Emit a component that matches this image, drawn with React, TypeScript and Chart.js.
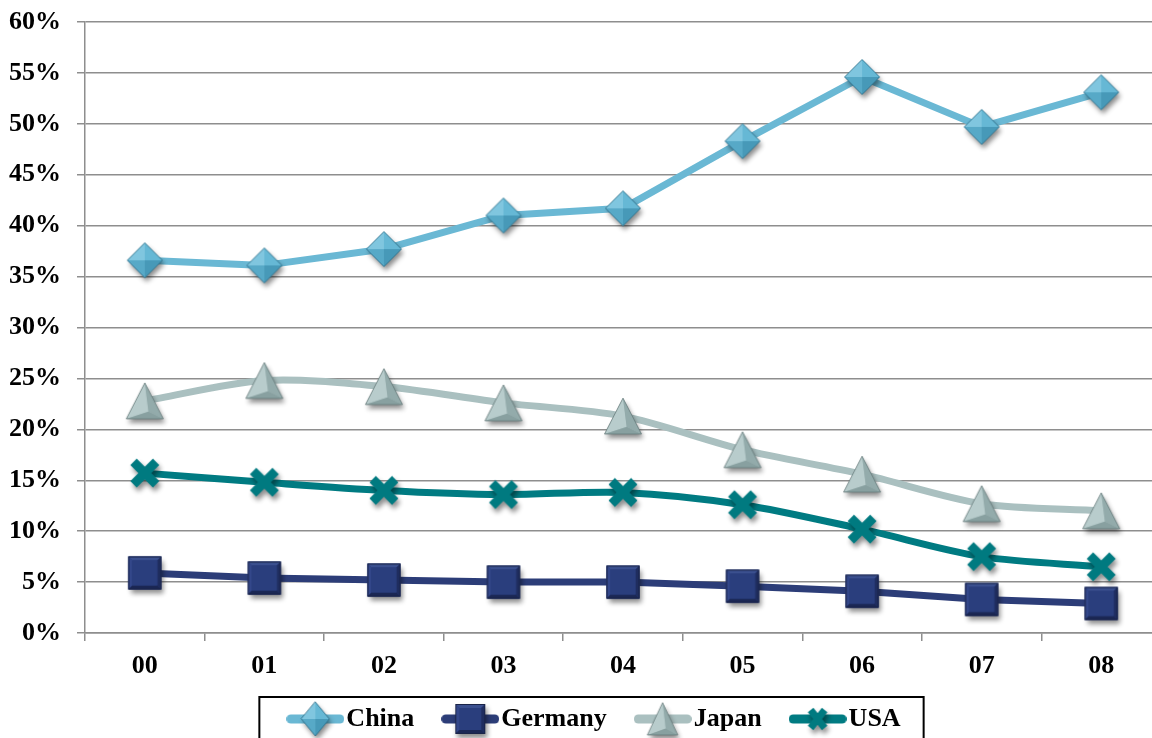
import React, { useEffect, useRef } from 'react';
import { Chart, registerables } from 'chart.js';

Chart.register(...registerables);

const categories = ['00', '01', '02', '03', '04', '05', '06', '07', '08'];
const seriesNames = ['China', 'Germany', 'Japan', 'USA'];
const chinaValues = [36.6, 36.1, 37.7, 41.0, 41.7, 48.3, 54.6, 49.7, 53.1];
const germanyValues = [5.9, 5.4, 5.2, 5.0, 5.0, 4.6, 4.1, 3.3, 2.9];
const japanValues = [22.8, 24.8, 24.2, 22.6, 21.3, 18.0, 15.6, 12.7, 12.0];
const usaValues = [15.7, 14.8, 14.0, 13.6, 13.8, 12.6, 10.2, 7.5, 6.5];
const yMin = 0;
const yMax = 60;
const yStep = 5;

const W = 1175;
const H = 760;
const FONT = { family: "'Liberation Serif', 'Times New Roman', serif", size: 26, weight: 'bold' as const };
const GRID = '#8e8e8e';

type Pt = [number, number];

function makeCanvas(w: number, h: number) {
  const c = document.createElement('canvas');
  c.width = w;
  c.height = h;
  return c;
}

function shadow(ctx: CanvasRenderingContext2D, on: boolean) {
  if (on) {
    ctx.shadowColor = 'rgba(0,0,0,0.45)';
    ctx.shadowBlur = 5;
    ctx.shadowOffsetX = 2;
    ctx.shadowOffsetY = 4;
  } else {
    ctx.shadowColor = 'rgba(0,0,0,0)';
    ctx.shadowBlur = 0;
    ctx.shadowOffsetX = 0;
    ctx.shadowOffsetY = 0;
  }
}

function poly(ctx: CanvasRenderingContext2D, pts: Pt[]) {
  ctx.beginPath();
  ctx.moveTo(pts[0][0], pts[0][1]);
  for (let i = 1; i < pts.length; i++) ctx.lineTo(pts[i][0], pts[i][1]);
  ctx.closePath();
}

function fillPoly(ctx: CanvasRenderingContext2D, pts: Pt[], color: string) {
  poly(ctx, pts);
  ctx.fillStyle = color;
  ctx.fill();
}

function drawDiamond(ctx: CanvasRenderingContext2D, cx: number, cy: number, w: number, h: number, sh: boolean) {
  const T: Pt = [cx, cy - h / 2];
  const R: Pt = [cx + w / 2, cy];
  const B: Pt = [cx, cy + h / 2];
  const L: Pt = [cx - w / 2, cy];
  const C: Pt = [cx, cy];
  shadow(ctx, sh);
  fillPoly(ctx, [T, R, B, L], '#55abc9');
  shadow(ctx, false);
  fillPoly(ctx, [T, L, C], '#80c6df');
  fillPoly(ctx, [T, R, C], '#66b8d5');
  fillPoly(ctx, [R, B, C], '#4799b8');
  fillPoly(ctx, [B, L, C], '#57a9c7');
  poly(ctx, [T, R, B, L]);
  ctx.strokeStyle = 'rgba(40,100,125,0.7)';
  ctx.lineWidth = 1;
  ctx.stroke();
}

function drawSquare(ctx: CanvasRenderingContext2D, cx: number, cy: number, s: number, sh: boolean) {
  const x0 = cx - s / 2, y0 = cy - s / 2, x1 = cx + s / 2, y1 = cy + s / 2, b = 4;
  shadow(ctx, sh);
  fillPoly(ctx, [[x0, y0], [x1, y0], [x1, y1], [x0, y1]], '#283b78');
  shadow(ctx, false);
  fillPoly(ctx, [[x0, y0], [x1, y0], [x1 - b, y0 + b], [x0 + b, y0 + b]], '#3b508f');
  fillPoly(ctx, [[x0, y0], [x0 + b, y0 + b], [x0 + b, y1 - b], [x0, y1]], '#33478a');
  fillPoly(ctx, [[x1, y0], [x1, y1], [x1 - b, y1 - b], [x1 - b, y0 + b]], '#1f2d5f');
  fillPoly(ctx, [[x0, y1], [x1, y1], [x1 - b, y1 - b], [x0 + b, y1 - b]], '#1b2754');
  fillPoly(ctx, [[x0 + b, y0 + b], [x1 - b, y0 + b], [x1 - b, y1 - b], [x0 + b, y1 - b]], '#2a3e7d');
  ctx.strokeStyle = '#1a2448';
  ctx.lineWidth = 1;
  ctx.strokeRect(x0 + 0.5, y0 + 0.5, s - 1, s - 1);
}

function drawTriangle(ctx: CanvasRenderingContext2D, cx: number, cy: number, w: number, h: number, sh: boolean) {
  const A: Pt = [cx, cy - h / 2];
  const BL: Pt = [cx - w / 2, cy + h / 2];
  const BR: Pt = [cx + w / 2, cy + h / 2];
  const P: Pt = [cx + w * 0.1, cy + h * 0.3];
  shadow(ctx, sh);
  fillPoly(ctx, [A, BR, BL], '#a5bbbb');
  shadow(ctx, false);
  fillPoly(ctx, [A, BL, P], '#b8cccc');
  fillPoly(ctx, [A, BR, P], '#93abab');
  fillPoly(ctx, [BL, BR, P], '#88a0a0');
  poly(ctx, [A, BR, BL]);
  ctx.strokeStyle = 'rgba(95,115,115,0.7)';
  ctx.lineWidth = 1;
  ctx.stroke();
}

function drawX(ctx: CanvasRenderingContext2D, cx: number, cy: number, sx: number, sy: number, th: number, sh: boolean) {
  shadow(ctx, sh);
  ctx.beginPath();
  ctx.moveTo(cx - sx, cy - sy);
  ctx.lineTo(cx + sx, cy + sy);
  ctx.moveTo(cx + sx, cy - sy);
  ctx.lineTo(cx - sx, cy + sy);
  ctx.strokeStyle = '#007a80';
  ctx.lineWidth = th;
  ctx.lineCap = 'butt';
  ctx.stroke();
  shadow(ctx, false);
}

const lineColors = ['#6ab8d4', '#2c3d78', '#aac0c0', '#007b82'];

function markerCanvas(i: number, legend: boolean) {
  const cw = legend ? 58 : 56;
  const ch = legend ? 40 : 56;
  const c = makeCanvas(cw, ch);
  const ctx = c.getContext('2d')!;
  const cx = cw / 2;
  const cy = ch / 2;
  if (legend) {
    ctx.beginPath();
    ctx.moveTo(4.5, cy);
    ctx.lineTo(cw - 4.5, cy);
    ctx.strokeStyle = lineColors[i];
    ctx.lineWidth = 9;
    ctx.lineCap = 'round';
    ctx.stroke();
  }
  if (i === 0) legend ? drawDiamond(ctx, cx, cy, 28, 34, true) : drawDiamond(ctx, cx, cy, 35, 35, true);
  if (i === 1) legend ? drawSquare(ctx, cx, cy, 30, true) : drawSquare(ctx, cx, cy, 33, true);
  if (i === 2) legend ? drawTriangle(ctx, cx, cy, 30, 32, true) : drawTriangle(ctx, cx, cy, 37, 36, true);
  if (i === 3) legend ? drawX(ctx, cx, cy, 7, 9, 7, true) : drawX(ctx, cx, cy, 11.3, 11.3, 9, true);
  return c;
}

const legendBorder = {
  id: 'legendBorder',
  afterLayout(chart: any) {
    // let axis labels extend beyond their boxes without being clipped
    if (chart.scales && chart.scales.y) chart.scales.y.left = 0;
    if (chart.scales && chart.scales.x) chart.scales.x.bottom = chart.height;
  },
  afterDraw(chart: any) {
    const lg = chart.legend;
    if (!lg || !lg.legendHitBoxes || !lg.legendHitBoxes.length) return;
    const hb = lg.legendHitBoxes;
    const first = hb[0];
    const last = hb[hb.length - 1];
    const left = first.left - 38;
    const right = last.left + last.width + 23;
    const top = first.top - 9;
    const bottom = chart.height + 10;
    const ctx = chart.ctx;
    ctx.save();
    ctx.strokeStyle = '#000';
    ctx.lineWidth = 2;
    ctx.beginPath();
    ctx.moveTo(left, bottom);
    ctx.lineTo(left, top);
    ctx.lineTo(right, top);
    ctx.lineTo(right, bottom);
    ctx.stroke();
    ctx.restore();
  },
};

export default function App() {
  const ref = useRef<HTMLCanvasElement>(null);

  useEffect(() => {
    const canvas = ref.current;
    if (!canvas) return;
    const pointImgs = [0, 1, 2, 3].map((i) => markerCanvas(i, false));
    const legendImgs = [0, 1, 2, 3].map((i) => markerCanvas(i, true));
    const values = [chinaValues, germanyValues, japanValues, usaValues];
    const tensions = [0, 0, 0.3, 0.3];

    const chart = new Chart(canvas, {
      type: 'line',
      data: {
        labels: categories,
        datasets: seriesNames.map((name, i) => ({
          label: name,
          data: values[i],
          borderColor: lineColors[i],
          backgroundColor: lineColors[i],
          borderWidth: 7,
          tension: tensions[i],
          pointStyle: pointImgs[i] as any,
          pointRadius: 18,
          pointHoverRadius: 18,
          fill: false,
          borderCapStyle: 'round' as const,
          borderJoinStyle: 'round' as const,
        })),
      },
      options: {
        responsive: false,
        animation: false,
        devicePixelRatio: 1,
        layout: { autoPadding: false, padding: { left: 37, right: W - 1161, top: 22, bottom: 18 } },
        plugins: {
          tooltip: { enabled: false },
          legend: {
            display: true,
            position: 'bottom',
            labels: {
              usePointStyle: true,
              pointStyleWidth: 36,
              boxHeight: 26,
              padding: 38,
              color: '#000',
              font: FONT,
              generateLabels: () =>
                seriesNames.map((name, i) => ({
                  text: name,
                  fillStyle: lineColors[i],
                  strokeStyle: lineColors[i],
                  lineWidth: 0,
                  pointStyle: legendImgs[i] as any,
                  hidden: false,
                  datasetIndex: i,
                  rotation: 0,
                  fontColor: '#000',
                })),
            },
          },
        },
        scales: {
          x: {
            type: 'category',
            offset: true,
            afterFit: (scale: any) => {
              scale.height = 35;
              scale.paddingLeft = 0;
              scale.paddingRight = 0;
            },
            grid: {
              display: true,
              drawOnChartArea: false,
              drawTicks: true,
              tickLength: 8,
              offset: true,
              color: GRID,
              lineWidth: 1.5,
            },
            border: { display: true, color: GRID, width: 1.5 },
            ticks: { color: '#000', font: FONT, padding: 10, maxRotation: 0 },
          },
          y: {
            min: yMin,
            max: yMax,
            afterFit: (scale: any) => {
              scale.width = 48;
              scale.paddingTop = 0;
              scale.paddingBottom = 0;
            },
            grid: { color: GRID, lineWidth: 1.5, tickLength: 8, drawTicks: true },
            border: { display: true, color: GRID, width: 1.5 },
            ticks: {
              stepSize: yStep,
              color: '#000',
              font: FONT,
              padding: 16,
              callback: (v: any) => `${v}%`,
            },
          },
        },
      },
      plugins: [legendBorder],
    });
    return () => chart.destroy();
  }, []);

  return (
    <div
      style={{
        position: 'fixed',
        left: 0,
        top: 0,
        width: 1152,
        height: 738,
        overflow: 'hidden',
        background: '#fff',
      }}
    >
      <canvas ref={ref} width={W} height={H} style={{ display: 'block', width: W, height: H }} />
    </div>
  );
}
